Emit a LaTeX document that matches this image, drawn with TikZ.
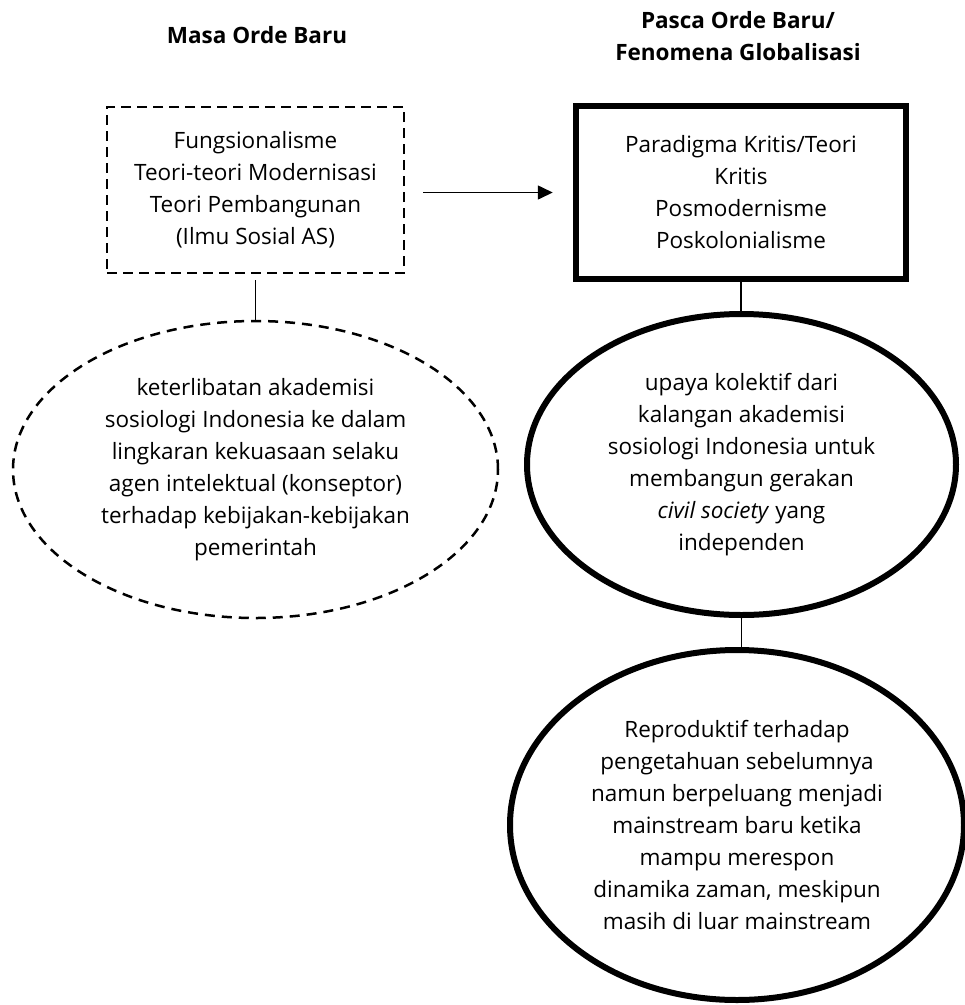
\documentclass[tikz,border=0pt]{standalone}
\usepackage{fontspec}
\setmainfont{Open Sans}
\usetikzlibrary{shapes.geometric,arrows.meta}
\begin{document}
\begin{tikzpicture}[x=1pt,y=-1pt,
  txt/.style={font=\fontsize{22.5}{32}\selectfont, align=center, inner sep=0pt},
  ttl/.style={font=\fontsize{22.5}{32}\selectfont\bfseries, align=center, inner sep=0pt},
  dashbox/.style={txt, draw, line width=2.5pt, dash pattern=on 10pt off 6pt, rectangle, minimum width=297pt, minimum height=166pt},
  thickbox/.style={txt, draw, line width=6.5pt, rectangle, minimum width=330pt, minimum height=173pt},
  dashell/.style={txt, draw, line width=2.5pt, dash pattern=on 10pt off 7pt, ellipse},
  thickell/.style={txt, draw, line width=6pt, ellipse},
  conn/.style={line width=1.6pt},
]
\useasboundingbox (0,0) rectangle (965,1005);

\node[ttl] (t1) at (257,35) {Masa Orde Baru};
\node[ttl] (t2) at (738,36) {Pasca Orde Baru/\\Fenomena Globalisasi};

\node[dashbox] (dbox) at (255.5,190) {Fungsionalisme\\Teori-teori Modernisasi\\Teori Pembangunan\\(Ilmu Sosial AS)};
\node[thickbox] (tbox) at (741,192.5) {Paradigma Kritis/Teori\\Kritis\\Posmodernisme\\Poskolonialisme};

\node[dashell, minimum width=485pt, minimum height=297pt] (dell) at (255.5,469.5)
  {keterlibatan akademisi\\sosiologi Indonesia ke dalam\\lingkaran kekuasaan selaku\\agen intelektual (konseptor)\\terhadap kebijakan-kebijakan\\pemerintah};
\node[thickell, minimum width=429pt, minimum height=301pt] (ell2) at (741.5,464.5)
  {upaya kolektif dari\\kalangan akademisi\\sosiologi Indonesia untuk\\membangun gerakan\\\textit{civil society} yang\\independen};
\node[thickell, minimum width=454pt, minimum height=350pt] (ell3) at (737,825)
  {Reproduktif terhadap\\pengetahuan sebelumnya\\namun berpeluang menjadi\\mainstream baru ketika\\mampu merespon\\dinamika zaman, meskipun\\masih di luar mainstream};

\draw[conn, -{Triangle[length=15pt,width=14pt]}] ([xshift=18pt]dbox.east |- tbox.west) -- ([xshift=-20pt]tbox.west);
\draw[conn] ([yshift=-6pt]dbox.south) -- (dbox.south |- dell.north);
\draw[conn] (tbox.south) -- (tbox.south |- ell2.north);
\draw[conn] (ell2.south) -- (ell2.south |- ell3.north);
\end{tikzpicture}
\end{document}
